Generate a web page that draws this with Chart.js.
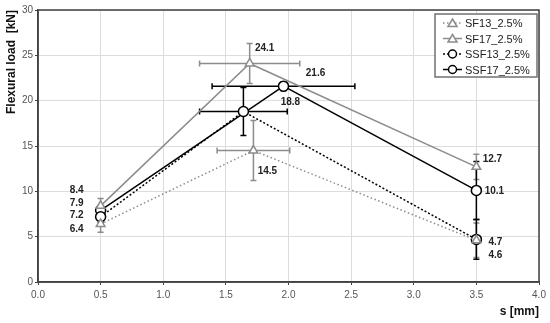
<!DOCTYPE html>
<html>
<head>
<meta charset="utf-8">
<script src="https://cdn.jsdelivr.net/npm/chart.js@4.4.0/dist/chart.umd.min.js"></script>
<style>
  html, body { margin: 0; padding: 0; background: #fff; }
  #wrap { width: 550px; height: 323px; }
</style>
</head>
<body>
<div id="wrap"><canvas id="chart" width="550" height="323"></canvas></div>
<script>
// Data
const seriesNames = ["SF13_2.5%", "SF17_2.5%", "SSF13_2.5%", "SSF17_2.5%"];
const sf13X = [0.5, 1.72, 3.5];
const sf13Y = [6.4, 14.5, 4.6];
const sf13Ex = [0, 0.29, 0];
const sf13Ey = [0.9, 3.3, 1.9];
const sf17X = [0.5, 1.69, 3.5];
const sf17Y = [8.4, 24.1, 12.7];
const sf17Ex = [0, 0.4, 0];
const sf17Ey = [0.8, 2.2, 1.4];
const ssf13X = [0.5, 1.64, 3.5];
const ssf13Y = [7.2, 18.8, 4.7];
const ssf13Ex = [0, 0.35, 0];
const ssf13Ey = [0.6, 2.65, 2.2];
const ssf17X = [0.5, 1.96, 3.5];
const ssf17Y = [7.9, 21.6, 10.1];
const ssf17Ex = [0, 0.57, 0];
const ssf17Ey = [0.5, 0.5, 3.2];
const xTicks = [0, 0.5, 1, 1.5, 2, 2.5, 3, 3.5, 4];
const yTicks = [0, 5, 10, 15, 20, 25, 30];

const GRAY = "#8c8c8c";
const BLACK = "#000000";

function points(xs, ys, exs, eys) {
  return xs.map((x, i) => ({ x, y: ys[i], ex: exs[i], ey: eys[i] }));
}

// label offsets (px) per series and point
const labelOffsets = [
  [[-24, 5], [14, 21], [19, 15]],
  [[-24, -16], [15, -15], [16, -8]],
  [[-24, -1], [47, -9], [19, 3]],
  [[-24, -7], [32, -13], [18, 1]]
];

// Error bars drawn through the chart scales
const errorBars = {
  id: "errorBars",
  beforeDatasetsDraw(chart) {
    const { ctx, scales: { x, y } } = chart;
    ctx.save();
    chart.data.datasets.forEach(ds => {
      ctx.strokeStyle = ds.borderColor;
      ctx.lineWidth = 1.5;
      ds.data.forEach(p => {
        const px = x.getPixelForValue(p.x);
        const py = y.getPixelForValue(p.y);
        if (p.ey) {
          const y1 = y.getPixelForValue(p.y - p.ey);
          const y2 = y.getPixelForValue(p.y + p.ey);
          ctx.beginPath();
          ctx.moveTo(px, y1); ctx.lineTo(px, y2);
          ctx.moveTo(px - 3, y1); ctx.lineTo(px + 3, y1);
          ctx.moveTo(px - 3, y2); ctx.lineTo(px + 3, y2);
          ctx.stroke();
        }
        if (p.ex) {
          const x1 = x.getPixelForValue(p.x - p.ex);
          const x2 = x.getPixelForValue(p.x + p.ex);
          ctx.beginPath();
          ctx.moveTo(x1, py); ctx.lineTo(x2, py);
          ctx.moveTo(x1, py - 3); ctx.lineTo(x1, py + 3);
          ctx.moveTo(x2, py - 3); ctx.lineTo(x2, py + 3);
          ctx.stroke();
        }
      });
    });
    ctx.restore();
  }
};

// Value labels next to points
const valueLabels = {
  id: "valueLabels",
  afterDatasetsDraw(chart) {
    const { ctx } = chart;
    ctx.save();
    ctx.font = "bold 10px 'Liberation Sans', Arial, sans-serif";
    ctx.fillStyle = "#222";
    ctx.textAlign = "center";
    ctx.textBaseline = "middle";
    chart.data.datasets.forEach((ds, di) => {
      const meta = chart.getDatasetMeta(di);
      meta.data.forEach((el, i) => {
        const off = labelOffsets[di][i];
        ctx.fillText(ds.data[i].y.toFixed(1), el.x + off[0], el.y + off[1]);
      });
    });
    ctx.restore();
  }
};

// Frame around plot area
const frame = {
  id: "frame",
  afterDatasetsDraw(chart) {
    const { ctx, chartArea: a } = chart;
    ctx.save();
    ctx.strokeStyle = "#404040";
    ctx.lineWidth = 1.5;
    ctx.strokeRect(a.left, a.top, a.right - a.left, a.bottom - a.top);
    ctx.restore();
  }
};

// Boxed legend with line samples
const boxLegend = {
  id: "boxLegend",
  afterDraw(chart) {
    const { ctx } = chart;
    const bx = 435, by = 14, bw = 102, bh = 63;
    ctx.save();
    ctx.fillStyle = "#fff";
    ctx.fillRect(bx, by, bw, bh);
    ctx.strokeStyle = "#707070";
    ctx.lineWidth = 1.5;
    ctx.strokeRect(bx, by, bw, bh);
    chart.data.datasets.forEach((ds, i) => {
      const yy = by + 9 + i * 15.5;
      ctx.strokeStyle = ds.borderColor;
      ctx.lineWidth = 1.5;
      ctx.setLineDash(ds.borderDash || []);
      ctx.beginPath();
      ctx.moveTo(443, yy); ctx.lineTo(462, yy);
      ctx.stroke();
      ctx.setLineDash([]);
      ctx.fillStyle = "#fff";
      ctx.beginPath();
      if (ds.pointStyle === "triangle") {
        ctx.moveTo(452.5, yy - 4); ctx.lineTo(457, yy + 3.5); ctx.lineTo(448, yy + 3.5); ctx.closePath();
      } else {
        ctx.arc(452.5, yy, 4, 0, Math.PI * 2);
      }
      ctx.fill();
      ctx.stroke();
      ctx.fillStyle = "#222";
      ctx.font = "11px 'Liberation Sans', Arial, sans-serif";
      ctx.textBaseline = "middle";
      ctx.fillText(ds.label, 465, yy + 1);
    });
    ctx.restore();
  }
};

new Chart(document.getElementById("chart"), {
  type: "scatter",
  data: {
    datasets: [
      { label: seriesNames[0], data: points(sf13X, sf13Y, sf13Ex, sf13Ey), borderColor: GRAY, borderDash: [1.5, 2.5],
        pointStyle: "triangle", pointRadius: 5 },
      { label: seriesNames[1], data: points(sf17X, sf17Y, sf17Ex, sf17Ey), borderColor: GRAY,
        pointStyle: "triangle", pointRadius: 5 },
      { label: seriesNames[2], data: points(ssf13X, ssf13Y, ssf13Ex, ssf13Ey), borderColor: BLACK, borderDash: [2, 2],
        pointStyle: "circle", pointRadius: 5 },
      { label: seriesNames[3], data: points(ssf17X, ssf17Y, ssf17Ex, ssf17Ey), borderColor: BLACK,
        pointStyle: "circle", pointRadius: 5 }
    ].map(d => Object.assign(d, {
      showLine: true, borderWidth: 1.5, backgroundColor: "#fff",
      pointBackgroundColor: "#fff", pointBorderColor: d.borderColor, pointBorderWidth: 1.5
    }))
  },
  options: {
    responsive: false,
    animation: false,
    layout: { padding: { top: 10, right: 11, left: 0, bottom: 0 } },
    plugins: { legend: { display: false }, tooltip: { enabled: false } },
    scales: {
      x: {
        type: "linear", min: 0, max: 4,
        afterBuildTicks: s => { s.ticks = xTicks.map(v => ({ value: v })); },
        afterFit: s => { s.height = 41; },
        grid: { color: "#dcdcdc", lineWidth: 1, tickLength: 3, tickColor: "#404040" },
        border: { color: "#404040", width: 1.5 },
        ticks: { color: "#555", font: { family: "'Liberation Sans', Arial", size: 10 }, padding: 4,
          callback: v => v.toFixed(1) },
        title: { display: true, text: "s [mm]", align: "end", color: "#111",
          font: { family: "'Liberation Sans', Arial", size: 12, weight: "bold" }, padding: { top: 5 } }
      },
      y: {
        type: "linear", min: 0, max: 30,
        afterBuildTicks: s => { s.ticks = yTicks.map(v => ({ value: v })); },
        afterFit: s => { s.width = 38; },
        grid: { color: "#dcdcdc", lineWidth: 1, tickLength: 3, tickColor: "#404040" },
        border: { color: "#404040", width: 1.5 },
        ticks: { color: "#555", font: { family: "'Liberation Sans', Arial", size: 10 }, padding: 2 },
        title: { display: true, text: "Flexural load  [kN]", align: "end", color: "#111",
          font: { family: "'Liberation Sans', Arial", size: 12, weight: "bold" }, padding: { bottom: 0 } }
      }
    }
  },
  plugins: [errorBars, valueLabels, frame, boxLegend]
});
</script>
</body>
</html>
